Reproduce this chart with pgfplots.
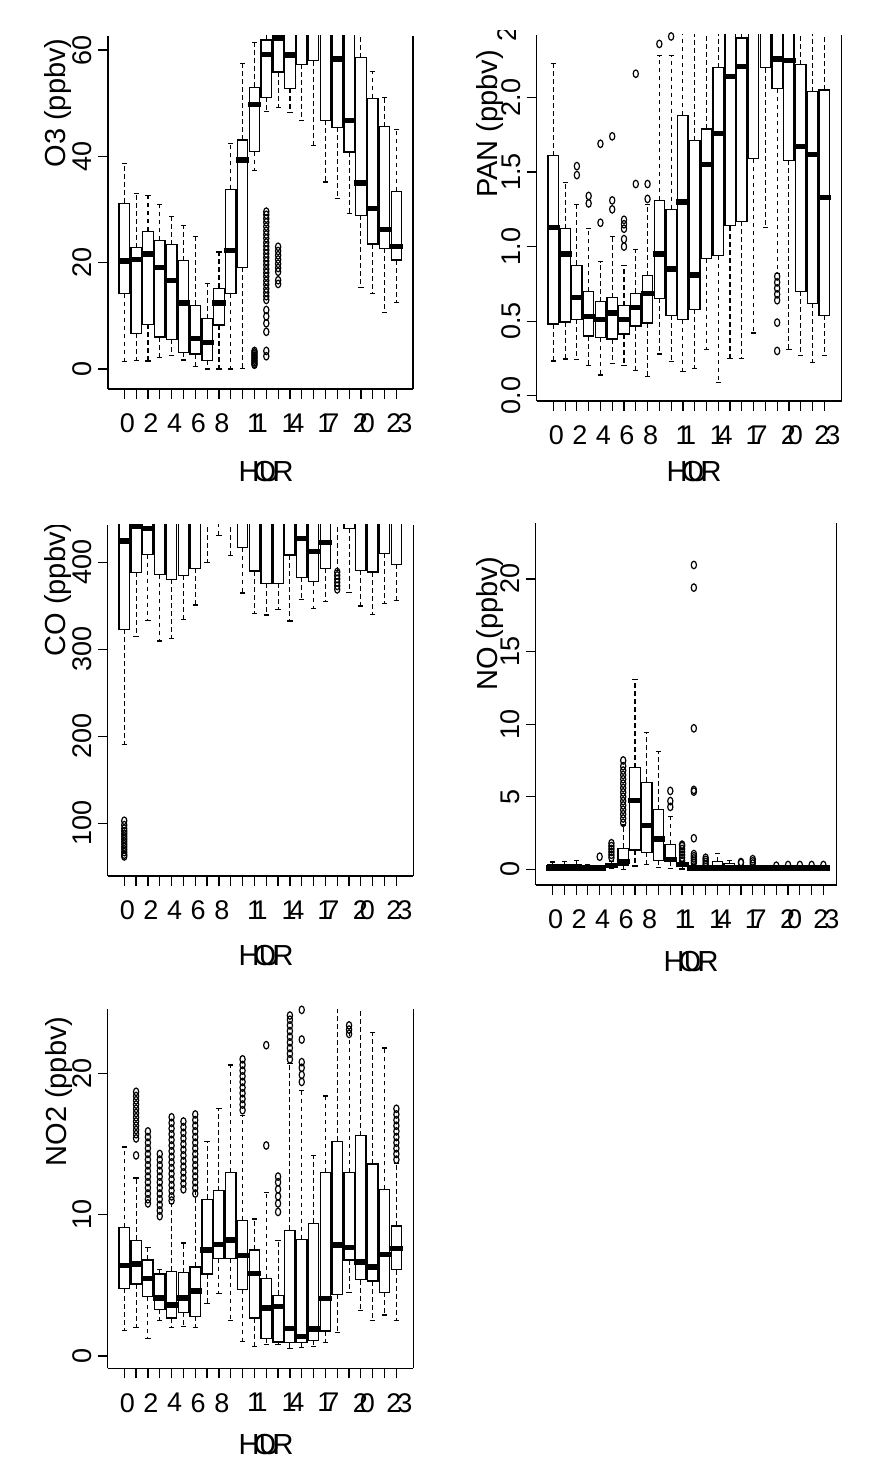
\documentclass[border=0pt]{standalone}
\usepackage{fontspec}
\setmainfont{Liberation Sans}
\usepackage{pgfplots}
\pgfplotsset{compat=1.18}
\usepgfplotslibrary{statistics}
\newcommand\tickfont{\fontsize{13.5}{14}\selectfont}
\newcommand\labfont{\fontsize{14.5}{15}\selectfont}
\newcommand\hour{H\kern-0.2em O\kern-0.6em U\kern-0.25em R}
\newcommand\bx[6]{\addplot[boxplot prepared={draw direction=y, draw position=#1, lower whisker=#2, lower quartile=#3, median=#4, upper quartile=#5, upper whisker=#6}] coordinates {};}
\pgfplotsset{
  boxplot/draw direction=y,
  boxplot/box extend=0.88,
  boxplot/whisker extend=0.44,
  boxplot/every box/.style={draw=black, fill=white, line width=0.65pt},
  boxplot/every median/.style={draw=black, line width=2.7pt, shorten <=-0.7pt, shorten >=-0.7pt},
  boxplot/draw/lower whisker/.code={%
    \draw[black, line width=0.55pt, dash pattern=on 2.4pt off 1.6pt]
      (boxplot box cs:\pgfplotsboxplotvalue{lower quartile},0.5) --
      (boxplot box cs:\pgfplotsboxplotvalue{lower whisker},0.5);
    \draw[black, line width=0.6pt]
      (boxplot whisker cs:\pgfplotsboxplotvalue{lower whisker},0) --
      (boxplot whisker cs:\pgfplotsboxplotvalue{lower whisker},1);
  },
  boxplot/draw/upper whisker/.code={%
    \draw[black, line width=0.55pt, dash pattern=on 2.4pt off 1.6pt]
      (boxplot box cs:\pgfplotsboxplotvalue{upper quartile},0.5) --
      (boxplot box cs:\pgfplotsboxplotvalue{upper whisker},0.5);
    \draw[black, line width=0.6pt]
      (boxplot whisker cs:\pgfplotsboxplotvalue{upper whisker},0) --
      (boxplot whisker cs:\pgfplotsboxplotvalue{upper whisker},1);
  },
  rpanel/.style={
    scale only axis, anchor=south west,
    axis lines*=left,
    axis line style={line width=0.6pt, black},
    enlargelimits=false,
    tick align=outside, major tick length=5pt,
    tick style={black, line width=0.6pt},
    xtick={0,...,23},
    xticklabels={0,,2,,4,,6,,8,,,{1\kern-.35em1},,,{1\kern-.27em4},,,{1\kern-.3em7},,,{2\kern-.3em0},,,{2\kern-.15em3}},
    xticklabel style={font=\tickfont, xshift=1.5pt, yshift=-4pt},
    yticklabel style={font=\tickfont, xshift=-1.75pt, rotate=90, anchor=south, inner sep=1pt},
    /pgf/number format/assume math mode=true,
  },
  outl/.style={only marks, mark=o, mark size=1.3pt, black, mark options={yscale=1.45, line width=0.6pt}},
}
\begin{document}
\begin{tikzpicture}
\path[use as bounding box] (0,0) rectangle (447.5pt,-738pt);

% ---------------- O3 ----------------
\begin{axis}[rpanel, name=o3, at={(54pt,-194.5pt)}, width=152.5pt, height=176.5pt,
  xmin=-1.38, xmax=24.40, ymin=-3.76, ymax=62.65, ytick={0,20,40,60}]
\bx{0}{1.4}{14.2}{20.3}{31.2}{38.7}
\bx{1}{1.6}{6.7}{20.6}{22.8}{33.0}
\bx{2}{1.5}{8.4}{21.6}{25.9}{32.7}
\bx{3}{2.1}{6.0}{19.1}{24.2}{31.0}
\bx{4}{2.6}{5.6}{16.6}{23.4}{28.7}
\bx{5}{1.7}{3.1}{12.4}{20.4}{27.0}
\bx{6}{0.4}{2.8}{5.7}{12.0}{24.9}
\bx{7}{0.0}{1.6}{5.0}{9.5}{16.1}
\bx{8}{0.0}{8.3}{12.4}{15.2}{22.0}
\bx{9}{0.0}{14.2}{22.3}{33.8}{42.4}
\bx{10}{0.1}{19.1}{39.3}{43.1}{57.4}
\bx{11}{37.3}{40.9}{49.8}{53.0}{61.4}
\bx{12}{48.5}{51.1}{59.2}{61.9}{68}
\bx{13}{49.2}{55.9}{62.3}{66}{72}
\bx{14}{48.3}{52.8}{59.1}{66}{75}
\bx{15}{46.8}{57.3}{65}{70}{78}
\bx{16}{42.1}{58.0}{66}{72}{80}
\bx{17}{35.2}{46.8}{64}{70}{78}
\bx{18}{32.1}{45.5}{58.3}{66}{75}
\bx{19}{29.2}{40.8}{46.8}{65}{72}
\bx{20}{15.4}{28.9}{35.0}{58.6}{66}
\bx{21}{14.2}{23.5}{30.2}{50.9}{55.9}
\bx{22}{10.7}{22.7}{26.3}{45.6}{51.1}
\bx{23}{12.5}{20.5}{23.0}{33.4}{45.0}
\addplot[outl] coordinates {
(11,0.8)(11,1.0)(11,1.3)(11,1.6)(11,1.9)(11,2.2)(11,2.5)(11,2.8)(11,3.1)(11,3.4)
(12,29.6)(12,29.0)(12,28.3)(12,27.6)(12,26.8)(12,26.0)(12,25.3)(12,24.6)(12,23.8)(12,23.1)
(12,22.4)(12,21.7)(12,21.0)(12,20.3)(12,19.6)(12,18.8)(12,18.1)(12,17.4)(12,16.6)(12,15.9)
(12,15.1)(12,14.4)(12,13.7)(12,13.0)(12,11.1)(12,9.9)(12,8.6)(12,7.0)(12,3.4)(12,2.4)
(13,23.0)(13,22.2)(13,21.4)(13,20.6)(13,19.8)(13,19.0)(13,18.3)(13,16.7)(13,16.0)
};
\end{axis}
\draw[line width=0.6pt] (o3.south east) -- (o3.north east);
\node[rotate=90, font=\labfont, inner sep=0] at (29.25pt,-51.5pt) {O3 (ppbv)};
\node[font=\labfont, inner sep=0] at (133pt,-235.85pt) {\hour};

% ---------------- PAN ----------------
\begin{axis}[rpanel, name=pan, at={(268.35pt,-200.5pt)}, width=152.5pt, height=183pt,
  xmin=-1.41, xmax=24.48, ymin=-0.036, ymax=2.42, ytick={0,0.5,1,1.5,2},
  yticklabel style={/pgf/number format/.cd, fixed, fixed zerofill, precision=1}]
\bx{0}{0.233}{0.48}{1.13}{1.61}{2.23}
\bx{1}{0.246}{0.495}{0.95}{1.12}{1.43}
\bx{2}{0.24}{0.513}{0.658}{0.875}{1.28}
\bx{3}{0.20}{0.40}{0.53}{0.70}{1.12}
\bx{4}{0.139}{0.39}{0.51}{0.63}{0.90}
\bx{5}{0.213}{0.38}{0.555}{0.658}{1.07}
\bx{6}{0.20}{0.414}{0.51}{0.604}{0.875}
\bx{7}{0.166}{0.468}{0.59}{0.687}{0.98}
\bx{8}{0.128}{0.488}{0.687}{0.806}{1.28}
\bx{9}{0.28}{0.654}{0.95}{1.31}{2.28}
\bx{10}{0.23}{0.54}{0.85}{1.25}{2.28}
\bx{11}{0.16}{0.51}{1.30}{1.88}{2.6}
\bx{12}{0.18}{0.58}{0.81}{1.71}{2.6}
\bx{13}{0.31}{0.92}{1.55}{1.79}{2.6}
\bx{14}{0.09}{0.94}{1.76}{2.20}{2.6}
\bx{15}{0.25}{1.14}{2.14}{2.5}{2.8}
\bx{16}{0.25}{1.17}{2.21}{2.40}{2.7}
\bx{17}{0.42}{1.59}{2.5}{2.7}{3.0}
\bx{18}{1.13}{2.20}{2.55}{2.7}{3.0}
\bx{19}{0.82}{2.06}{2.26}{2.5}{2.8}
\bx{20}{0.31}{1.58}{2.25}{2.5}{2.8}
\bx{21}{0.27}{0.70}{1.67}{2.22}{2.6}
\bx{22}{0.22}{0.62}{1.62}{2.04}{2.6}
\bx{23}{0.27}{0.54}{1.33}{2.05}{2.6}
\addplot[outl] coordinates {
(2,1.54)(2,1.48)(3,1.34)(3,1.29)(4,1.69)(4,1.16)(5,1.74)(5,1.31)(5,1.25)
(6,1.18)(6,1.15)(6,1.12)(6,1.05)(6,1.0)(7,2.16)(7,1.42)(8,1.42)(8,1.32)
(9,2.36)(10,2.41)
(19,0.80)(19,0.76)(19,0.72)(19,0.68)(19,0.64)(19,0.49)(19,0.30)
};
\end{axis}
\draw[line width=0.6pt] (pan.south east) -- (pan.north east);
\begin{scope}
\clip (240pt,-15.5pt) rectangle (265pt,-30pt);
\node[rotate=90, font=\tickfont, inner sep=0] at (253.75pt,-11.5pt) {2.5};
\end{scope}
\node[rotate=90, font=\labfont, inner sep=0] at (245pt,-62pt) {PAN (ppbv)};
\node[font=\labfont, inner sep=0] at (347pt,-236pt) {\hour};

% ---------------- CO ----------------
\begin{axis}[rpanel, name=co, at={(53.85pt,-438pt)}, width=152.8pt, height=175.5pt,
  xmin=-1.40, xmax=24.43, ymin=39.5, ymax=443, ytick={100,200,300,400}]
\bx{0}{190.8}{323}{424.5}{460}{500}
\bx{1}{315}{388.5}{441}{470}{520}
\bx{2}{333.3}{409}{439}{470}{520}
\bx{3}{309.6}{386}{455}{480}{520}
\bx{4}{312.6}{380.5}{455}{480}{520}
\bx{5}{334.5}{385}{455}{480}{520}
\bx{6}{351}{393}{455}{480}{520}
\bx{7}{400}{450}{470}{490}{520}
\bx{8}{431}{455}{475}{490}{520}
\bx{9}{408}{450}{470}{490}{520}
\bx{10}{364.8}{417}{455}{480}{520}
\bx{11}{341.4}{390}{455}{480}{520}
\bx{12}{339.5}{375.9}{455}{480}{520}
\bx{13}{346}{375.9}{455}{480}{520}
\bx{14}{332.6}{408.4}{455}{480}{520}
\bx{15}{357.5}{383}{427.6}{460}{520}
\bx{16}{347}{378}{412.3}{460}{520}
\bx{17}{355}{393}{422.6}{460}{520}
\bx{18}{391}{450}{470}{490}{520}
\bx{19}{365.5}{439}{460}{480}{520}
\bx{20}{349.8}{390.8}{455}{480}{520}
\bx{21}{340}{389}{455}{480}{520}
\bx{22}{352.9}{410.3}{455}{480}{520}
\bx{23}{356.3}{397.7}{455}{480}{520}
\addplot[outl] coordinates {
(0,103)(0,98)(0,94)(0,91)(0,88)(0,85)(0,82)(0,79)(0,76)(0,73)(0,70)(0,67)(0,64)(0,62)
(18,389)(18,385)(18,381)(18,377)(18,373)(18,369)
};
\end{axis}
\draw[line width=0.6pt] (co.south east) -- (co.north east);
\begin{scope}
\clip (0pt,-262.5pt) rectangle (50pt,-400pt);
\node[rotate=90, font=\labfont, inner sep=0] at (29pt,-294.75pt) {CO (ppbv)};
\end{scope}
\node[font=\labfont, inner sep=0] at (133pt,-478pt) {\hour};

% ---------------- NO ----------------
\begin{axis}[rpanel, name=no, at={(267.85pt,-442.5pt)}, width=150.5pt, height=180.85pt,
  xmin=-1.43, xmax=24.13, ymin=-1.08, ymax=23.83, ytick={0,5,10,15,20}]
\bx{0}{0}{0.03}{0.08}{0.3}{0.5}
\bx{1}{0}{0.03}{0.08}{0.3}{0.55}
\bx{2}{0}{0.03}{0.08}{0.3}{0.6}
\bx{3}{0}{0.03}{0.08}{0.2}{0.35}
\bx{4}{0}{0.05}{0.1}{0.15}{0.25}
\bx{5}{0.05}{0.15}{0.25}{0.35}{0.55}
\bx{6}{0}{0.3}{0.53}{1.45}{3.05}
\bx{7}{0.23}{1.33}{4.73}{7.0}{13.1}
\bx{8}{0.34}{1.17}{3.0}{6.0}{9.44}
\bx{9}{0.14}{0.6}{2.09}{4.1}{8.1}
\bx{10}{0.07}{0.53}{0.69}{1.72}{3.63}
\bx{11}{0.02}{0.2}{0.34}{0.42}{0.52}
\bx{12}{0}{0.05}{0.1}{0.2}{0.35}
\bx{13}{0}{0.05}{0.1}{0.15}{0.25}
\bx{14}{0}{0.05}{0.1}{0.53}{1.08}
\bx{15}{0}{0.05}{0.1}{0.41}{0.62}
\bx{16}{0}{0.03}{0.08}{0.12}{0.2}
\bx{17}{0}{0.03}{0.08}{0.12}{0.2}
\bx{18}{0}{0.03}{0.08}{0.12}{0.2}
\bx{19}{0}{0.03}{0.08}{0.12}{0.2}
\bx{20}{0}{0.03}{0.08}{0.12}{0.2}
\bx{21}{0}{0.03}{0.08}{0.12}{0.2}
\bx{22}{0}{0.03}{0.08}{0.12}{0.2}
\bx{23}{0}{0.03}{0.08}{0.12}{0.2}
\addplot[outl] coordinates {
(4,0.87)(5,0.8)(5,1.0)(5,1.2)(5,1.4)(5,1.6)(5,1.8)
(6,3.2)(6,3.5)(6,3.8)(6,4.1)(6,4.4)(6,4.7)(6,5.0)(6,5.3)(6,5.6)(6,5.9)(6,6.2)(6,6.5)(6,6.8)(6,7.1)(6,7.5)
(10,5.4)(10,4.7)(10,4.3)
(11,0.6)(11,0.8)(11,1.0)(11,1.2)(11,1.4)(11,1.6)(11,1.7)
(12,20.96)(12,19.4)(12,9.71)(12,5.47)(12,5.35)(12,2.14)(12,0.45)(12,0.6)(12,0.75)(12,0.9)(12,1.05)
(13,0.35)(13,0.5)(13,0.65)(13,0.8)
(16,0.45)(16,0.5)(17,0.4)(17,0.55)(17,0.7)
(19,0.25)(20,0.3)(21,0.3)(22,0.3)(23,0.3)
};
\end{axis}
\draw[line width=0.6pt] (no.south east) -- (no.north east);
\node[rotate=90, font=\labfont, inner sep=0] at (245pt,-312pt) {NO (ppbv)};
\node[font=\labfont, inner sep=0] at (345.5pt,-481pt) {\hour};

% ---------------- NO2 ----------------
\begin{axis}[rpanel, name=no2, at={(53.85pt,-684.15pt)}, width=152.8pt, height=179.5pt,
  xmin=-1.40, xmax=24.43, ymin=-0.87, ymax=24.54, ytick={0,10,20}]
\bx{0}{1.8}{4.8}{6.4}{9.1}{14.8}
\bx{1}{2.0}{5.1}{6.5}{8.2}{12.6}
\bx{2}{1.25}{4.2}{5.5}{6.8}{7.7}
\bx{3}{2.5}{3.3}{4.1}{5.8}{6.1}
\bx{4}{2.0}{2.7}{3.6}{6.0}{10.8}
\bx{5}{2.1}{3.1}{4.1}{5.9}{8.0}
\bx{6}{2.0}{2.8}{4.6}{6.3}{11.7}
\bx{7}{3.7}{5.8}{7.5}{11.1}{15.2}
\bx{8}{4.4}{6.9}{7.9}{11.7}{17.5}
\bx{9}{2.5}{6.9}{8.2}{13.0}{20.6}
\bx{10}{1.0}{4.7}{7.1}{9.6}{17.0}
\bx{11}{0.7}{2.7}{5.85}{7.5}{9.7}
\bx{12}{0.8}{1.25}{3.4}{5.5}{11.6}
\bx{13}{0.8}{1.0}{3.5}{4.3}{8.2}
\bx{14}{0.54}{0.94}{1.96}{8.9}{20.7}
\bx{15}{0.6}{0.94}{1.4}{8.25}{18.8}
\bx{16}{0.66}{1.1}{1.9}{9.4}{14.2}
\bx{17}{0.94}{1.77}{4.06}{13.0}{18.4}
\bx{18}{1.67}{4.36}{7.85}{15.2}{26}
\bx{19}{4.5}{6.8}{7.7}{13.0}{23.2}
\bx{20}{3.2}{5.4}{6.65}{15.6}{26}
\bx{21}{2.5}{5.3}{6.3}{13.6}{22.9}
\bx{22}{2.9}{4.5}{7.2}{11.8}{21.8}
\bx{23}{2.5}{6.1}{7.6}{9.2}{13.6}
\addplot[outl] coordinates {
(1,18.7)(1,18.4)(1,18.1)(1,17.8)(1,17.5)(1,17.2)(1,16.9)(1,16.6)(1,16.3)(1,16.0)(1,15.7)(1,15.4)(1,14.2)
(2,15.9)(2,15.5)(2,15.1)(2,14.7)(2,14.3)(2,13.9)(2,13.5)(2,13.1)(2,12.7)(2,12.3)(2,11.9)(2,11.5)(2,11.1)(2,10.8)
(3,14.3)(3,13.9)(3,13.5)(3,13.1)(3,12.7)(3,12.3)(3,11.9)(3,11.5)(3,11.1)(3,10.7)(3,10.3)(3,9.9)
(4,16.9)(4,16.5)(4,16.1)(4,15.7)(4,15.3)(4,14.9)(4,14.5)(4,14.1)(4,13.7)(4,13.3)(4,12.9)(4,12.5)(4,12.1)(4,11.7)(4,11.3)(4,11.0)
(5,16.6)(5,16.2)(5,15.8)(5,15.4)(5,15.0)(5,14.6)(5,14.2)(5,13.8)(5,13.4)(5,13.0)(5,12.6)(5,12.2)(5,11.8)
(6,17.1)(6,16.7)(6,16.3)(6,15.9)(6,15.5)(6,15.1)(6,14.7)(6,14.3)(6,13.9)(6,13.5)(6,13.1)(6,12.7)(6,12.3)(6,11.9)(6,11.5)
(10,21.0)(10,20.6)(10,20.2)(10,19.8)(10,19.4)(10,19.0)(10,18.6)(10,18.2)(10,17.8)(10,17.4)
(12,22.0)(12,14.9)
(13,12.7)(13,12.3)(13,11.8)(13,11.3)(13,10.8)(13,10.2)
(14,24.1)(14,23.8)(14,23.4)(14,23.0)(14,22.6)(14,22.2)(14,21.8)(14,21.4)(14,21.0)
(15,24.5)(15,22.4)(15,20.8)(15,20.4)(15,19.9)(15,19.4)
(19,23.4)(19,23.1)(19,22.8)
(23,17.5)(23,17.1)(23,16.7)(23,16.3)(23,15.9)(23,15.5)(23,15.1)(23,14.7)(23,14.3)(23,13.9)
};
\end{axis}
\draw[line width=0.6pt] (no2.south east) -- (no2.north east);
\node[rotate=90, font=\labfont, inner sep=0] at (29.5pt,-545.75pt) {NO2 (ppbv)};
\node[font=\labfont, inner sep=0] at (133pt,-722pt) {\hour};
\end{tikzpicture}
\end{document}
